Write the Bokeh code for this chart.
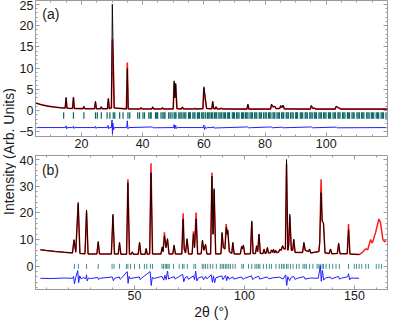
import math
from bokeh.plotting import figure
from bokeh.layouts import row, column
from bokeh.models import LinearAxis, Range1d, FixedTicker, Label
from bokeh.embed import file_html
from bokeh.resources import INLINE

FONT = "Liberation Sans"
GRAY = "#9a9a9a"

# ---------------- panel (a) data ----------------
a_x = [5, 7, 9, 11, 13, 14.7, 15.0, 15.3, 17.1, 17.4, 17.7,
       20.5, 20.8, 21.1, 24.3, 24.6, 24.9, 26.2, 26.5, 26.8,
       28.5, 28.8, 29.1, 29.8, 30.1, 30.4, 30.7, 34.7, 35.0, 35.3,
       39.2, 39.5, 39.8, 43.0, 43.3, 43.6, 46.2, 46.5, 46.8,
       50.0, 50.3, 50.55, 50.8, 51.2, 52.7, 53.0, 53.3, 56.7, 57.0, 57.3,
       59.7, 60.0, 60.5, 60.9, 62.6, 62.9, 63.2, 63.7, 64.0, 64.3,
       65.4, 65.7, 66.0, 74.1, 74.4, 74.7, 81.8, 82.1, 82.6, 83.2, 83.6,
       84.8, 85.1, 85.5, 85.9, 86.3, 94.8, 95.1, 95.6, 96.2, 96.6,
       102.9, 103.2, 103.7, 104.2, 104.7, 120]
a_obs = [1.8, 1.35, 1.05, 0.85, 0.68, 0.6, 3.1, 0.55, 0.5, 3.2, 0.48,
         0.45, 1.0, 0.43, 0.42, 2.2, 0.42, 0.42, 0.9, 0.42,
         0.45, 2.9, 0.5, 0.6, 25.0, 13.0, 0.6, 0.4, 9.9, 0.4,
         0.38, 0.7, 0.38, 0.38, 0.9, 0.38, 0.38, 0.7, 0.38,
         0.4, 7.0, 3.0, 6.4, 0.45, 0.4, 0.85, 0.4, 0.38, 0.55, 0.38,
         0.45, 5.6, 2.7, 0.5, 0.4, 2.2, 0.5, 0.4, 0.9, 0.4,
         0.38, 0.6, 0.38, 0.35, 1.5, 0.35, 0.35, 1.5, 0.9, 1.0, 0.45,
         0.5, 1.2, 0.7, 1.3, 0.4, 0.35, 1.2, 0.5, 0.6, 0.35,
         0.35, 1.0, 0.8, 0.6, 0.35, 0.35]
a_calc = [1.8, 1.35, 1.05, 0.85, 0.68, 0.6, 2.9, 0.55, 0.5, 3.0, 0.48,
          0.45, 0.9, 0.43, 0.42, 2.0, 0.42, 0.42, 0.85, 0.42,
          0.45, 2.7, 0.5, 0.6, 16.8, 11.0, 0.6, 0.4, 11.3, 0.4,
          0.38, 0.65, 0.38, 0.38, 0.85, 0.38, 0.38, 0.65, 0.38,
          0.4, 6.6, 3.0, 6.1, 0.45, 0.4, 0.8, 0.4, 0.38, 0.5, 0.38,
          0.45, 5.3, 2.6, 0.5, 0.4, 2.0, 0.5, 0.4, 0.85, 0.4,
          0.38, 0.55, 0.38, 0.35, 1.4, 0.35, 0.35, 1.4, 0.85, 0.95, 0.45,
          0.5, 1.1, 0.7, 1.2, 0.4, 0.35, 1.1, 0.5, 0.55, 0.35,
          0.35, 0.95, 0.75, 0.6, 0.35, 0.35]
a_diff_x = [5, 14.8, 15.0, 15.2, 15.4, 17.2, 17.4, 17.6, 17.8, 24.4, 24.6, 24.8, 25.0,
            28.5, 28.7, 28.9, 29.2, 29.8, 30.0, 30.15, 30.3, 30.5, 30.8,
            34.8, 35.0, 35.2, 35.5, 43.2, 43.4, 50.1, 50.3, 50.5, 50.8, 51.0, 51.3,
            59.8, 60.0, 60.2, 60.5, 60.8, 61.1, 62.8, 63.0, 63.3, 74.3, 74.6,
            82.0, 82.3, 85.5, 85.8, 95.2, 95.5, 103.3, 103.6, 120]
a_diff = [-4.0, -4.0, -3.6, -4.3, -4.0, -4.0, -3.7, -4.2, -4.0, -4.0, -3.7, -4.2, -4.0,
          -4.0, -3.5, -4.3, -4.0, -4.0, -2.2, -5.6, -3.0, -4.5, -4.0,
          -4.0, -2.4, -4.3, -4.0, -3.85, -4.05, -4.0, -3.3, -4.3, -3.5, -4.2, -4.0,
          -4.0, -3.4, -4.5, -3.8, -4.2, -4.0, -4.0, -3.75, -4.1, -3.85, -4.05,
          -3.85, -4.05, -3.9, -4.05, -3.85, -4.05, -3.9, -4.05, -4.0]
a_bragg = [14.2, 17.4, 20.8, 24.6, 25.2, 26.5, 28.4, 29.3, 30.4, 30.9, 32.5, 33.6,
           35.2, 35.8, 38.4, 39.0, 40.1, 40.6, 42.0, 42.5, 42.8, 44.2, 44.6, 44.9,
           46.0, 46.6, 47.0, 47.3, 48.5, 49.0, 49.6, 50.3, 50.6, 50.9, 51.8, 52.2,
           52.6, 53.2, 53.6, 54.1, 55.0, 55.3, 55.6, 56.4, 56.8, 57.1, 57.9, 58.3,
           58.6, 59.3, 59.7, 60.0, 60.6, 61.2, 61.6, 62.0, 62.5, 62.9, 63.5, 63.9,
           64.2, 64.9, 65.3, 65.7, 66.3, 66.7, 67.1, 67.8, 68.1, 68.4, 69.3, 69.7,
           70.0, 70.7, 71.1, 71.5, 72.3, 72.6, 73.0, 73.6, 74.0, 74.4, 75.1, 75.5,
           75.9, 76.6, 77.0, 77.3, 78.1, 78.4, 78.8, 79.5, 80.0, 80.4, 81.1, 81.5,
           81.9, 82.6, 82.9, 83.2, 83.9, 84.3, 84.7, 85.4, 85.8, 86.1, 86.9, 87.2,
           87.6, 88.3, 88.8, 89.2, 90.0, 90.3, 90.6, 91.5, 91.9, 92.3, 93.1, 93.4,
           93.8, 94.6, 95.0, 95.4, 96.1, 96.4, 96.8, 97.6, 98.0, 98.4, 99.1, 99.5,
           99.9, 100.7, 101.0, 101.4, 102.2, 102.6, 103.0, 103.8, 104.1, 104.5,
           105.3, 105.7, 106.1, 106.9, 107.2, 107.6, 108.4, 108.8, 109.1, 110.0,
           110.4, 110.8, 111.5, 111.9, 112.3, 113.2, 113.6, 114.0, 114.7, 115.1,
           115.5, 116.3, 116.7, 117.1, 117.9, 118.3, 118.7, 119.5]

# ---------------- panel (b) data ----------------
b_x = [7.2, 10, 14, 18, 21.8, 22.5, 23.3, 24.4, 25.2, 27.5, 28.2, 28.9,
       32.9, 33.5, 34.1, 39.5, 40.2, 40.9, 42.6, 43.2, 43.8, 46.4, 47.0, 47.7,
       48.5, 49.0, 49.5, 51.7, 52.3, 52.9, 54.8, 55.3, 55.8, 56.9, 57.5, 58.2,
       62.0, 62.6, 63.0, 63.6, 64.3, 65.0, 65.7, 67.4, 68.0, 68.6,
       71.5, 72.1, 72.6, 73.2, 73.9, 74.6, 76.2, 76.8, 77.3, 78.0, 78.7,
       80.3, 80.9, 81.5, 82.3, 82.9, 84.6, 85.2, 85.7, 86.2, 86.9,
       89.3, 89.8, 90.4, 91.1, 91.7, 92.1, 92.4, 93.1, 94.2, 94.7, 95.3,
       98.1, 98.7, 99.1, 99.5, 100.1, 102.7, 103.3, 103.9, 105.0, 105.5, 106.0,
       106.6, 107.2, 108.4, 108.9, 109.4, 109.9, 110.4, 110.9, 111.8, 112.3,
       112.8, 113.2, 113.7, 114.2, 114.7, 115.5, 116.1, 116.7, 117.3, 118.0,
       118.6, 119.1, 119.7, 120.1, 120.6, 121.3, 121.9, 122.4, 123.0,
       126.4, 127.0, 127.6, 129.1, 129.6, 130.1, 133.8, 134.2, 134.8, 135.3,
       135.9, 136.6, 138.5, 139.1, 139.7, 142.2, 142.8, 143.4, 146.7, 147.3,
       147.9, 152.1]
b_obs = [6.2, 5.9, 5.55, 5.25, 5.0, 10.0, 5.3, 23.9, 4.8, 4.7, 21.1, 4.6,
         4.6, 9.3, 4.6, 4.6, 19.5, 4.6, 4.6, 9.0, 4.5, 4.5, 31.3, 4.6,
         4.5, 5.4, 4.5, 4.5, 9.0, 4.5, 4.5, 6.7, 4.5, 4.6, 35.0, 4.6,
         4.6, 7.3, 5.5, 11.4, 7.0, 10.4, 4.6, 4.6, 8.0, 4.6,
         4.6, 17.7, 6.5, 5.0, 10.4, 4.6, 4.6, 12.1, 7.0, 17.7, 4.6,
         4.7, 9.8, 6.0, 8.3, 4.6, 4.6, 33.8, 12.0, 29.1, 4.6,
         4.7, 12.7, 7.0, 6.5, 14.6, 12.0, 13.7, 5.5, 4.8, 9.0, 4.6,
         4.6, 7.5, 6.5, 8.0, 4.6, 4.7, 17.0, 4.8, 4.8, 7.7, 5.5,
         12.1, 4.8, 4.8, 6.5, 4.8, 5.0, 7.1, 5.0, 5.0, 6.2,
         5.2, 6.4, 5.0, 6.0, 5.1, 5.3, 6.5, 6.0, 7.8, 6.5,
         6.5, 40.0, 6.0, 8.0, 19.5, 6.0, 6.0, 10.2, 5.2,
         5.2, 9.0, 6.0, 5.5, 6.5, 5.0, 5.5, 9.0, 27.6, 17.0,
         16.4, 5.0, 4.8, 6.5, 4.7, 4.8, 8.7, 4.7, 4.7, 13.7,
         4.6, 4.4]
b_calc = [6.2, 5.9, 5.55, 5.25, 5.0, 9.6, 5.3, 23.3, 4.8, 4.7, 20.6, 4.6,
          4.6, 9.0, 4.6, 4.6, 19.0, 4.6, 4.6, 8.6, 4.5, 4.5, 32.6, 4.6,
          4.5, 5.3, 4.5, 4.5, 8.8, 4.5, 4.5, 6.5, 4.5, 4.6, 38.6, 4.6,
          4.6, 7.0, 5.5, 12.7, 7.0, 10.0, 4.6, 4.6, 7.6, 4.6,
          4.6, 19.9, 6.5, 5.0, 10.0, 4.6, 4.6, 13.1, 7.0, 20.1, 4.6,
          4.7, 9.5, 6.0, 8.0, 4.6, 4.6, 35.1, 12.0, 28.5, 4.6,
          4.7, 12.3, 7.0, 6.5, 15.8, 12.0, 13.3, 5.5, 4.8, 8.7, 4.6,
          4.6, 7.3, 6.5, 7.8, 4.6, 4.7, 16.6, 4.8, 4.8, 7.5, 5.5,
          11.8, 4.8, 4.8, 6.3, 4.8, 5.0, 6.9, 5.0, 5.0, 6.0,
          5.2, 6.2, 5.0, 5.8, 5.1, 5.3, 6.3, 6.0, 7.5, 6.5,
          6.5, 38.5, 6.0, 8.0, 18.5, 6.0, 6.0, 9.8, 5.2,
          5.2, 8.6, 6.0, 5.5, 6.3, 5.0, 5.5, 9.0, 32.6, 17.0,
          16.0, 5.0, 4.8, 6.3, 4.7, 4.8, 8.4, 4.7, 4.7, 15.8,
          4.6, 4.4]
b_calc_ext_x = [153.6, 154.4, 155.1, 156.0, 157.3, 158.1, 159.6, 161.1, 161.8, 162.9, 163.7, 164.4]
b_calc_ext = [5.2, 6.0, 6.5, 6.2, 10.0, 8.7, 12.7, 17.7, 16.4, 10.0, 9.2, 9.6]
b_diff_x = [7.2, 12, 18, 21.8, 22.3, 22.7, 23.3, 24.2, 24.6, 25.1, 25.8, 26.5, 27.9, 28.2,
            28.5, 29.0, 30, 33.3, 33.7, 34.2, 39.9, 40.4, 41.0, 43.1, 43.5, 44, 46.7,
            47.1, 47.5, 48.0, 52.2, 52.6, 53.1, 57.1, 57.6, 58.1, 58.7, 62.5, 63.3,
            63.8, 64.4, 65.0, 65.5, 66.2, 68, 68.5, 69, 71.9, 72.4, 73.0, 74.0, 74.5,
            75.2, 76.8, 77.3, 77.8, 78.3, 79, 80.8, 81.4, 82.3, 82.9, 84.9, 85.4, 85.9,
            86.4, 87, 89.7, 90.2, 91.4, 91.9, 92.4, 93, 94.7, 95.2, 98.6, 99.3, 100,
            103.2, 103.7, 104.5, 106.4, 106.9, 108.5, 110.3, 111, 113, 116, 117.5,
            118.7, 119.2, 119.7, 120.5, 121.2, 122.4, 123, 124, 127, 127.5, 130,
            133.5, 134.5, 134.9, 135.4, 136.0, 136.8, 139, 139.5, 142.7, 143.2, 144,
            146.9, 147.3, 147.8, 148.4, 152.1]
b_diff = [-4.5, -4.6, -4.4, -4.5, -3.8, -6.6, -4.2, -1.6, -6.2, -3.6, -4.8, -4.2, -4.6, -3.2,
          -5.5, -4.4, -4.6, -4.2, -5.0, -4.5, -4.0, -5.4, -4.5, -4.0, -4.9, -4.5, -2.0,
          -6.4, -3.8, -4.6, -4.0, -5.0, -4.5, -2.0, -7.2, -4.0, -4.6, -3.8, -5.2,
          -3.4, -5.0, -1.8, -4.8, -4.4, -3.9, -4.8, -4.5, -3.0, -5.8, -4.3, -3.8, -4.9,
          -4.5, -3.6, -5.0, -1.8, -5.5, -4.4, -3.9, -5.0, -3.8, -4.7, -3.2, -6.0, -3.6,
          -6.2, -4.3, -3.6, -5.0, -3.4, -5.4, -3.8, -4.8, -4.0, -4.8, -4.0, -4.9, -4.5,
          -3.6, -5.0, -4.4, -3.7, -4.8, -4.4, -4.0, -4.7, -4.3, -4.1, -4.8,
          -3.2, -7.2, -3.9, -5.4, -4.2, -3.8, -4.9, -4.5, -3.9, -4.8, -4.4,
          -4.5, 0.2, -5.6, -1.5, -5.2, -4.4, -4.0, -4.7, -3.8, -4.8, -4.5,
          -3.9, -2.8, -5.1, -4.4, -4.5]
b_bragg = [22.7, 24.5, 28.2, 33.5, 39.8, 40.7, 43.2, 46.3, 47.0, 48.2, 50.0, 52.3,
           54.5, 55.6, 57.2, 58.2, 62.5, 63.2, 64.0, 64.6, 65.2, 65.8, 67.7, 70.3,
           71.8, 72.5, 74.0, 77.0, 77.8, 80.8, 81.5, 82.3, 83.3, 84.5, 85.6, 87.2,
           89.0, 89.8, 90.5, 91.3, 92.0, 92.8, 93.6, 94.7, 95.8, 98.8, 99.5, 101.8,
           103.3, 104.8, 105.6, 106.3, 107.0, 108.6, 110.0, 111.3, 112.3, 114.3,
           115.8, 116.8, 117.6, 118.0, 119.1, 119.8, 120.9, 122.1, 123.6, 124.8,
           126.6, 127.4, 128.1, 129.6, 131.1, 133.0, 133.8, 134.4, 135.3, 135.9,
           137.1, 138.6, 140.1, 141.6, 143.1, 147.3, 149.9, 150.9, 152.1, 153.3,
           155.1, 156.3, 159.9, 161.1, 162.3]

# ---------------- ticks ----------------
x_ticks_a = [20, 40, 60, 80, 100]
x_minor_a = [10, 15, 25, 30, 35, 45, 50, 55, 65, 70, 75, 85, 90, 95, 105, 110, 115]
y_ticks_a = [-5, 0, 5, 10, 15, 20, 25]
y_minor_a = [-4, -3, -2, -1, 1, 2, 3, 4, 6, 7, 8, 9, 11, 12, 13, 14, 16, 17, 18, 19,
             21, 22, 23, 24]
x_ticks_b = [50, 100, 150]
x_minor_b = [10, 20, 30, 40, 60, 70, 80, 90, 110, 120, 130, 140, 160]
y_ticks_b = [0, 10, 20, 30, 40]
y_minor_b = [-8, -6, -4, -2, 2, 4, 6, 8, 12, 14, 16, 18, 22, 24, 26, 28, 32, 34, 36, 38]


def style_axis(ax):
    ax.axis_line_color = GRAY
    ax.major_tick_line_color = GRAY
    ax.minor_tick_line_color = GRAY
    ax.major_tick_in = 4
    ax.major_tick_out = 0
    ax.minor_tick_in = 2
    ax.minor_tick_out = 0
    ax.major_label_text_font = FONT
    ax.major_label_text_font_size = "12.5px"
    ax.major_label_text_color = "#1a1a1a"
    ax.major_label_standoff = 2


def mirror(p, loc, majors, minors):
    # ticks on the opposite frame edges, without labels
    for pos, length in ((majors, 4), (minors, 2)):
        ax = LinearAxis(ticker=FixedTicker(ticks=[], minor_ticks=pos),
                        axis_line_color=None, major_tick_line_color=None,
                        minor_tick_line_color=GRAY, minor_tick_in=length, minor_tick_out=0,
                        major_tick_in=0, major_tick_out=0, major_label_standoff=0,
                        axis_label_standoff=0)
        p.add_layout(ax, loc)


def panel(width, height, xr, yr, bottom, xt, xm, yt, ym):
    p = figure(width=width, height=height, x_range=Range1d(*xr), y_range=Range1d(*yr),
               toolbar_location=None, output_backend="svg",
               min_border_left=17, min_border_right=7, min_border_top=0,
               min_border_bottom=bottom, background_fill_color="white",
               border_fill_color="white")
    p.xgrid.visible = False
    p.ygrid.visible = False
    p.outline_line_color = GRAY
    p.outline_line_width = 1
    p.below[0].ticker = FixedTicker(ticks=xt, minor_ticks=xm)
    p.left[0].ticker = FixedTicker(ticks=yt, minor_ticks=ym)
    style_axis(p.below[0])
    style_axis(p.left[0])
    mirror(p, "above", xt, xm)
    mirror(p, "right", yt, ym)
    return p


# ---- panel (a)
pa = panel(378, 155, (5, 120), (-6.1, 25.9), 19, x_ticks_a, x_minor_a, y_ticks_a, y_minor_a)
pa.left[0].major_label_overrides = {-5: "\u22125"}
pa.segment(x0=a_bragg, y0=-0.4, x1=a_bragg, y1=-1.9, line_color="#0b6464", line_width=1.2)
pa.line(a_diff_x, a_diff, line_color="#1f1fff", line_width=1)
pa.line(a_x, a_calc, line_color="#ff1a1a", line_width=1.6)
pa.line(a_x, a_obs, line_color="#000000", line_width=0.9)
pa.add_layout(Label(x=7.2, y=22.8, text="(a)", text_font=FONT, text_font_size="14px",
                    text_align="left", text_baseline="middle", text_color="#1a1a1a"))

# ---- panel (b)
pb = panel(378, 167, (5, 165), (-8.7, 41.5), 33, x_ticks_b, x_minor_b, y_ticks_b, y_minor_b)
xb = pb.below[0]
xb.axis_label = "2\u03b8 (\u00b0)"
xb.axis_label_text_font = FONT
xb.axis_label_text_font_size = "14px"
xb.axis_label_text_font_style = "normal"
xb.axis_label_text_color = "#1a1a1a"
xb.axis_label_standoff = 1
xb.major_label_standoff = 1
pb.segment(x0=b_bragg, y0=-0.95, x1=b_bragg, y1=0.9, line_color="#3f8c8c", line_width=1)
pb.line(b_diff_x, b_diff, line_color="#1f1fff", line_width=1)
pb.line(b_x + b_calc_ext_x, b_calc + b_calc_ext, line_color="#ff1a1a", line_width=1.5)
pb.line(b_x, b_obs, line_color="#000000", line_width=0.9)
pb.add_layout(Label(x=7.9, y=36.1, text="(b)", text_font=FONT, text_font_size="14px",
                    text_align="left", text_baseline="middle", text_color="#1a1a1a"))

# ---- shared y label
lab = figure(width=16, height=322, x_range=Range1d(0, 1), y_range=Range1d(0, 1),
             toolbar_location=None, output_backend="svg", min_border=0)
lab.axis.visible = False
lab.xgrid.visible = False
lab.ygrid.visible = False
lab.outline_line_color = None
lab.add_layout(Label(x=0.5, y=0.531, text="Intensity (Arb. Units)", angle=math.pi / 2,
                     text_font=FONT, text_font_size="14px", text_align="center",
                     text_baseline="middle", text_color="#1a1a1a"))

layout = row(lab, column(pa, pb, spacing=0), spacing=0)
open("out.html", "w").write(file_html(layout, INLINE))
